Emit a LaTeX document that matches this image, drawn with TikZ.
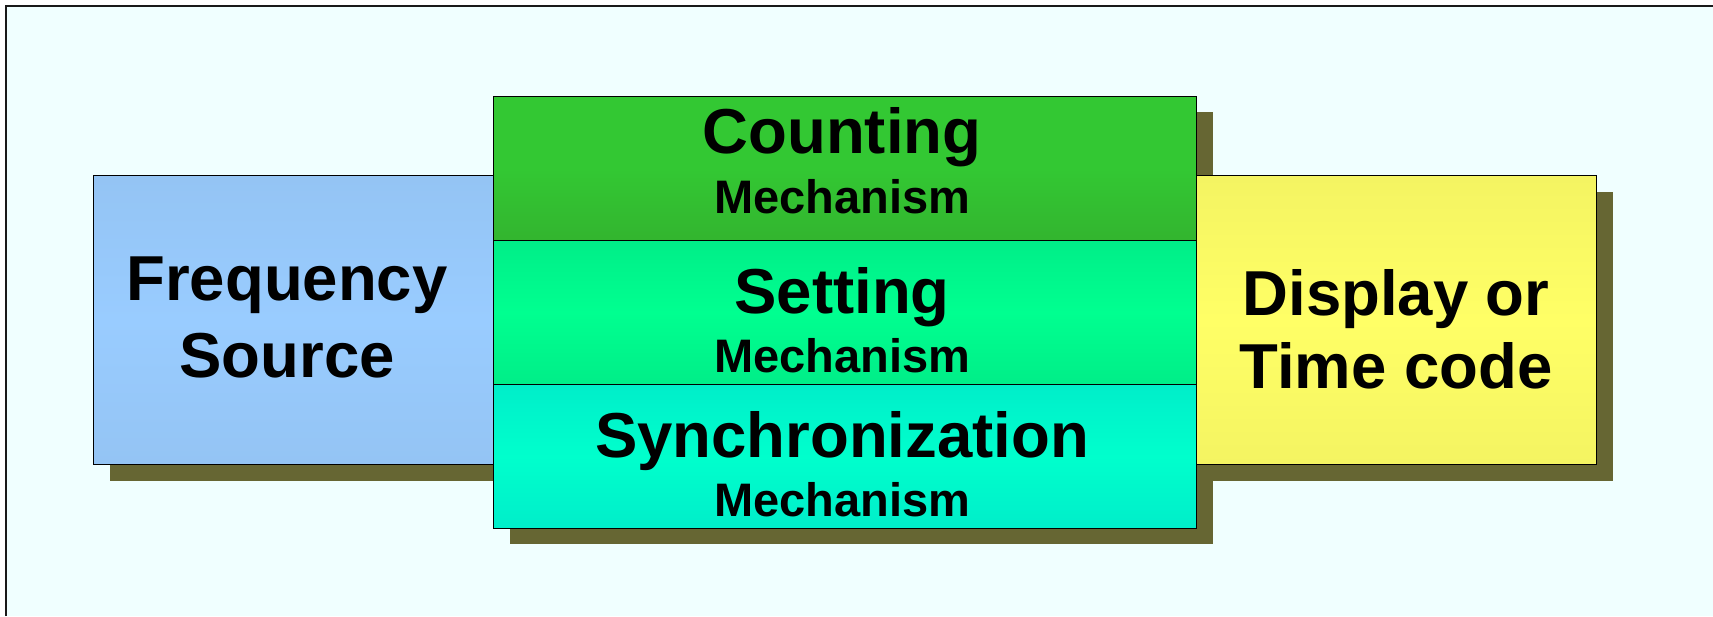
\documentclass[tikz,border=0pt]{standalone}
\usepackage{fontspec}
\setmainfont{Liberation Sans}
\usepackage{xcolor}
\usepackage{tikz}
\usetikzlibrary{shadows}
\definecolor{bgc}{HTML}{F0FFFF}
\definecolor{shadowc}{HTML}{666633}
\definecolor{blueA}{HTML}{94C4F4}
\definecolor{blueB}{HTML}{99CCFF}
\definecolor{cntA}{HTML}{33C833}
\definecolor{cntB}{HTML}{33B52F}
\definecolor{setA}{HTML}{00EE88}
\definecolor{setB}{HTML}{00FF90}
\definecolor{synA}{HTML}{00EECA}
\definecolor{synB}{HTML}{00FFCC}
\definecolor{yelA}{HTML}{F4F462}
\definecolor{yelB}{HTML}{FFFF66}
\tikzset{
  blk/.style={draw=black,line width=1.4pt,inner sep=0pt,anchor=north west,
    drop shadow={shadow xshift=16pt,shadow yshift=-16pt,fill=shadowc,opacity=1}},
  side/.style={blk,minimum width=400pt,minimum height=289pt},
  cell/.style={blk,minimum width=703pt,minimum height=144pt},
  big/.style={font=\fontsize{63.5}{76}\selectfont\bfseries,anchor=base,inner sep=0pt},
  small/.style={font=\fontsize{47}{56}\selectfont\bfseries,anchor=base,inner sep=0pt},
}

\begin{document}
\begin{tikzpicture}[x=1pt,y=-1pt]
\useasboundingbox (0,0) rectangle (1713,616);
\fill[bgc] (5.5,6) rectangle (1713,616);
\draw[line width=2pt,black!90] (5.5,616) -- (5.5,6) -- (1713,6);
% left and right blocks
\node[side,top color=blueA,bottom color=blueA,middle color=blueB] (freq) at (93,175) {};
\node[big] (freq1) at (287,300) {Frequency};
\node[big] (freq2) at (287,377) {Source};
% middle stack
\node[cell,top color=cntA,bottom color=cntB,middle color=cntA] (cnt) at (493,95.5) {};
\node[cell,top color=setA,bottom color=setA,middle color=setB] (set) at (493,239.5) {};
\node[cell,top color=synA,bottom color=synA,middle color=synB] (syn) at (493,383.5) {};
\node[big] (cnt1) at (842,153) {Counting};
\node[small] (cnt2) at (842,213) {Mechanism};
\node[big] (set1) at (842,313) {Setting};
\node[small] (set2) at (842,372) {Mechanism};
\node[big] (syn1) at (842,457) {Synchronization};
\node[small] (syn2) at (842,516) {Mechanism};
\node[side,top color=yelA,bottom color=yelA,middle color=yelB] (disp) at (1196,175) {};
\node[big] (disp1) at (1396,315) {Display or};
\node[big] (disp2) at (1396,388) {Time code};
\end{tikzpicture}
\end{document}
